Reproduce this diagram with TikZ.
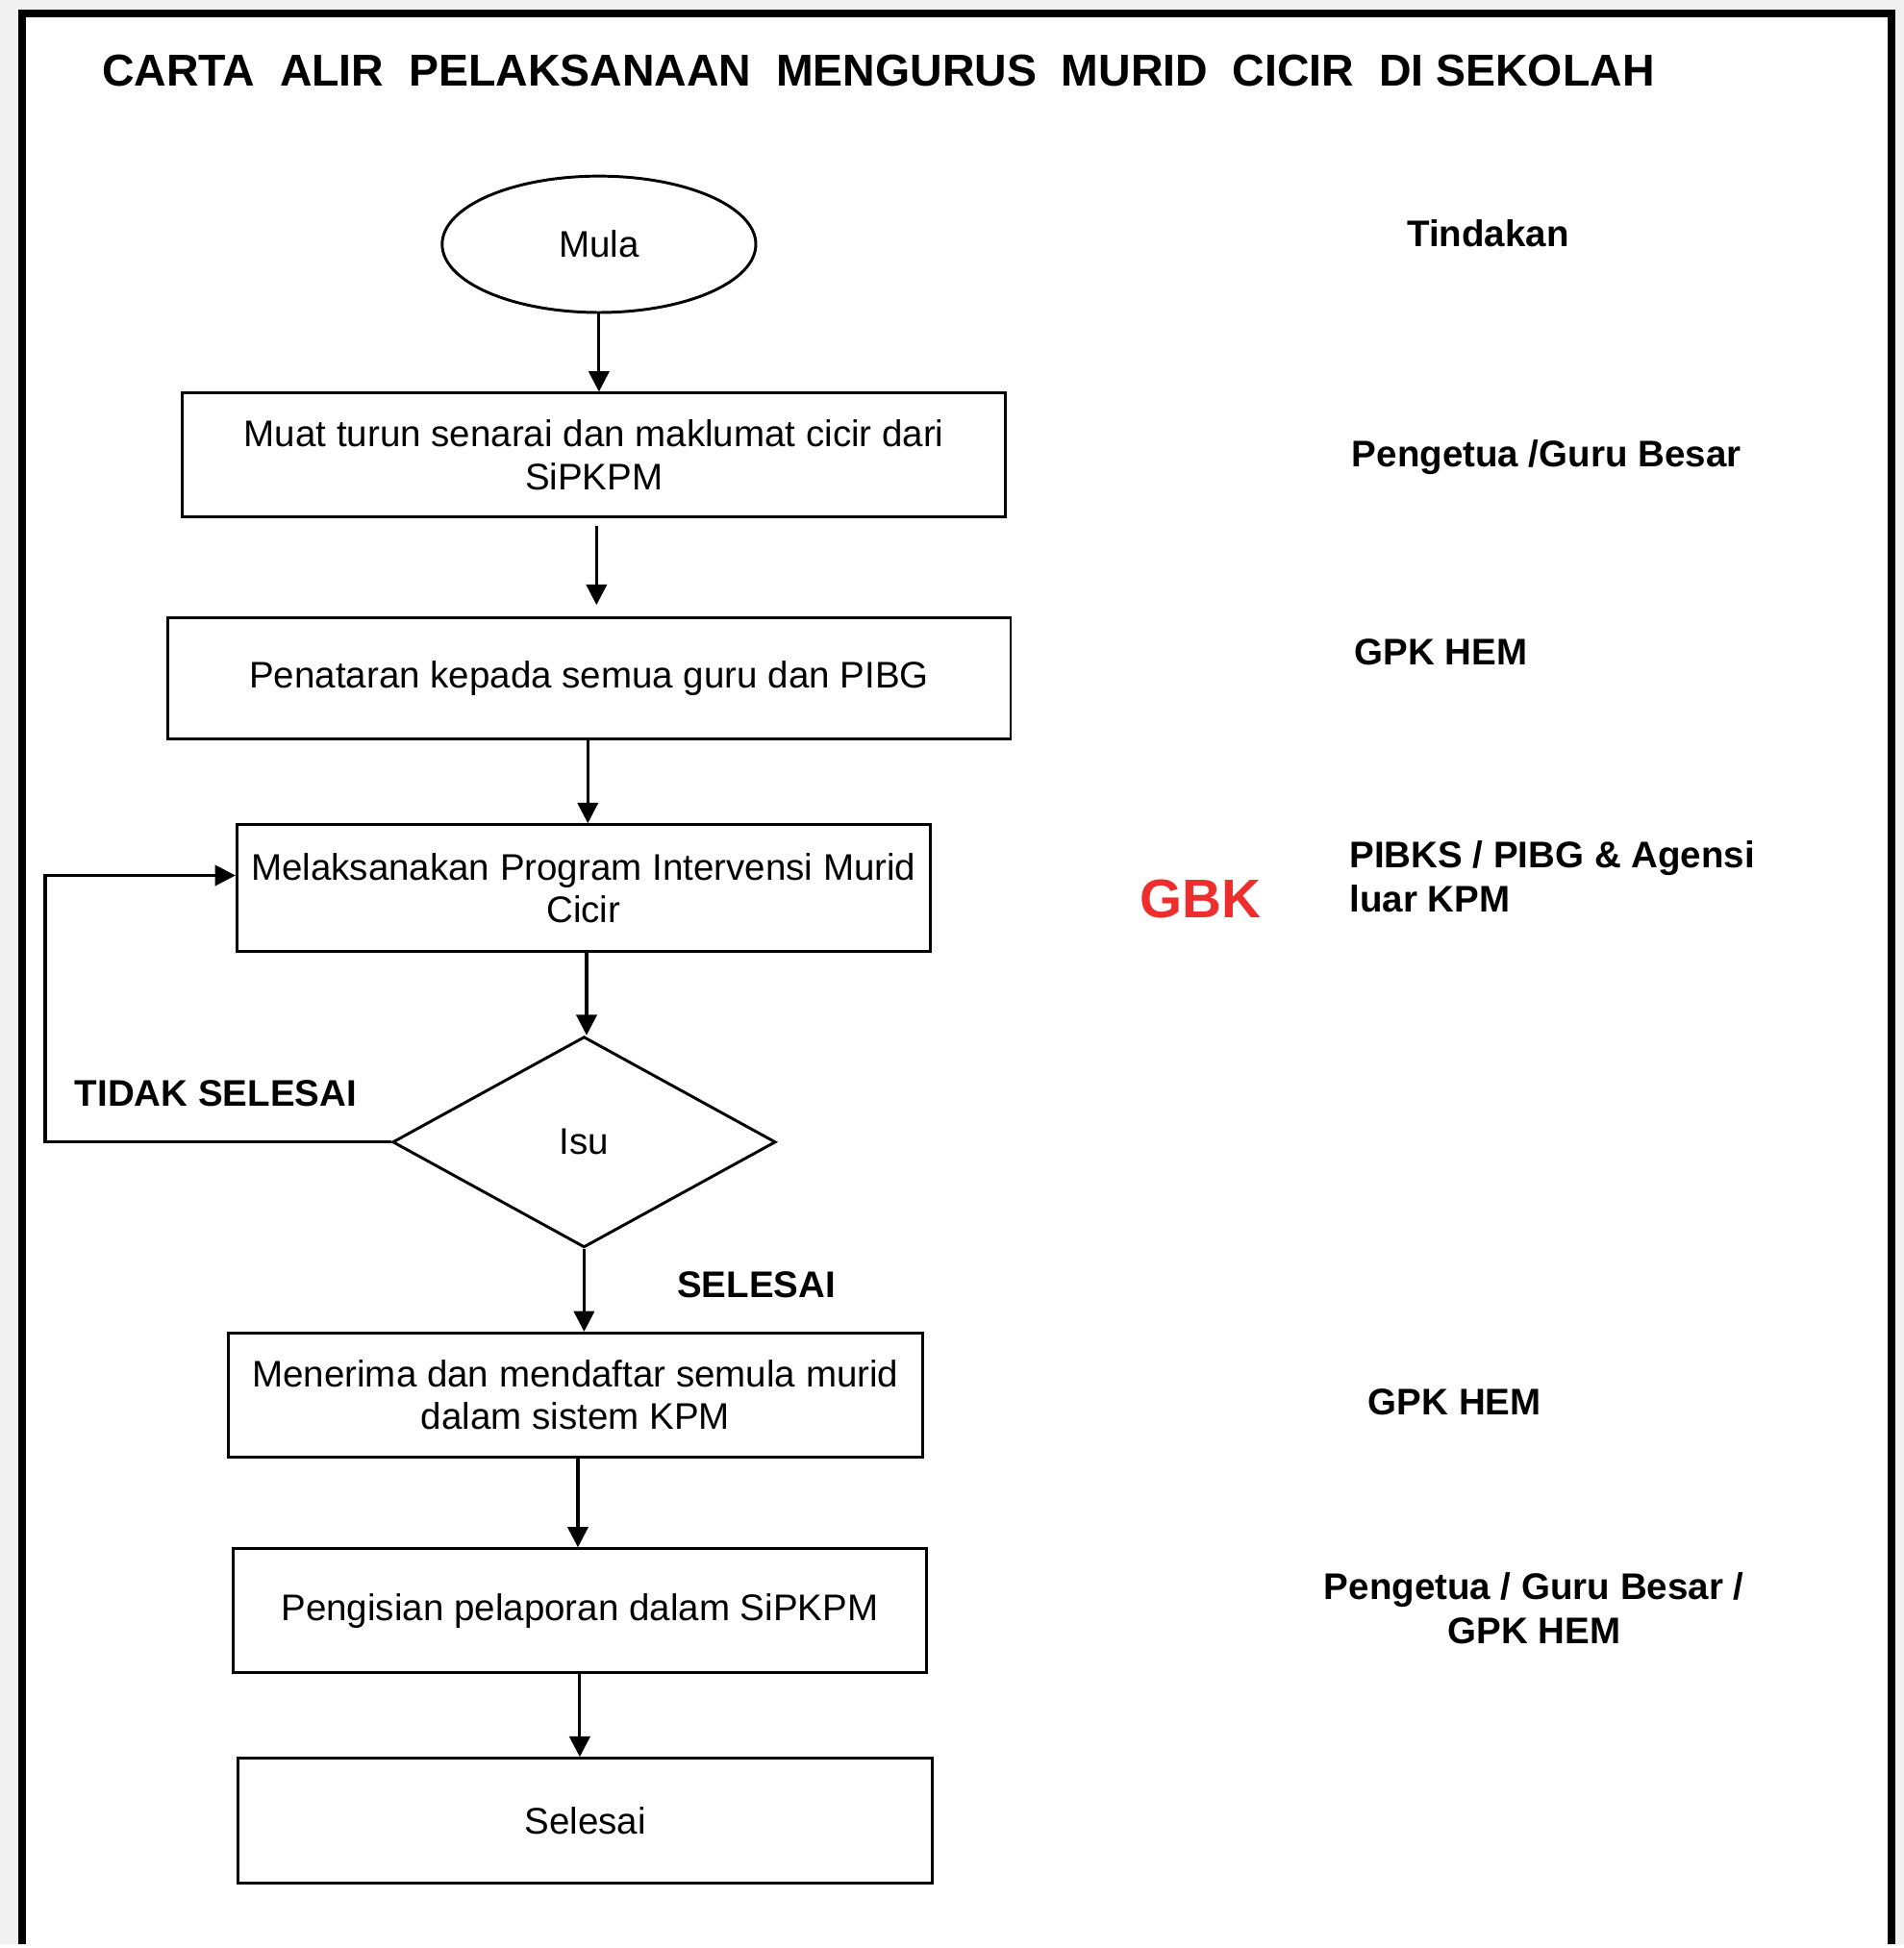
\documentclass[tikz,border=0pt]{standalone}
\usepackage{fontspec}
\setmainfont{Liberation Sans}
\usetikzlibrary{arrows.meta,shapes.geometric,calc}
\definecolor{gbkred}{RGB}{238,45,45}
\definecolor{pagegray}{RGB}{241,241,241}

\tikzset{
  stepbox/.style={draw,line width=1.3pt,align=center,inner sep=0pt,
    font=\fontsize{17}{19.5}\selectfont},
  start/.style={draw,ellipse,line width=1.3pt,inner sep=0pt,
    minimum width=5.06cm,minimum height=2.2cm,font=\fontsize{17}{19.5}\selectfont},
  decide/.style={draw,diamond,line width=1.3pt,inner sep=0pt,
    minimum width=6.18cm,minimum height=3.4cm,font=\fontsize{17}{19.5}\selectfont},
  who/.style={font=\bfseries\fontsize{17}{20}\selectfont,align=center},
  arr/.style={line width=1.4pt,-{Triangle[length=3.3mm,width=3.3mm]}}
}

\begin{document}
\begin{tikzpicture}[x=0.02cm,y=-0.02cm]
% page and frame
\fill[pagegray] (0,0) rectangle (1535,1568);
\fill[white] (17.8,10.8) rectangle (1525,1568);
\draw[line width=3.4pt] (17.8,1568) -- (17.8,10.8) -- (1525,10.8) -- (1525,1568);

\node[anchor=west,inner sep=0pt,font=\bfseries\fontsize{20.5}{24}\selectfont] (title) at (82,57)
  {CARTA\ \ ALIR\ \ PELAKSANAAN\ \ MENGURUS\ \ MURID\ \ CICIR\ \ DI SEKOLAH};

% flow
\node[start] (mula) at (483,197) {Mula};
\node[stepbox,minimum width=13.28cm,minimum height=2cm] (muat) at (479,367)
  {Muat turun senarai dan maklumat cicir dari\\SiPKPM};
\node[stepbox,minimum width=13.6cm,minimum height=1.96cm] (penataran) at (475,547)
  {Penataran kepada semua guru dan PIBG};
\node[stepbox,minimum width=11.18cm,minimum height=2.04cm] (program) at (470.5,716)
  {Melaksanakan Program Intervensi Murid\\Cicir};
\node[decide] (isu) at (471,921) {Isu};
\node[stepbox,minimum width=11.2cm,minimum height=2cm] (daftar) at (464,1125)
  {Menerima dan mendaftar semula murid\\dalam sistem KPM};
\node[stepbox,minimum width=11.18cm,minimum height=2cm] (lapor) at (467.5,1299)
  {Pengisian pelaporan dalam SiPKPM};
\node[stepbox,minimum width=11.2cm,minimum height=2.02cm] (selesai) at (472,1468.5)
  {Selesai};

\draw[arr] (mula.south) -- (mula.south |- muat.north);
\draw[arr,shorten <=0.12cm,shorten >=0.18cm] ([xshift=0.04cm]muat.south) -- ([xshift=0.04cm]muat.south |- penataran.north);
\draw[arr] ([xshift=-0.02cm]penataran.south) -- ([xshift=-0.02cm]penataran.south |- program.north);
\draw[arr] ([xshift=0.05cm]program.south) -- ([xshift=0.05cm]program.south |- isu.north);
\draw[arr] (isu.south) -- (isu.south |- daftar.north);
\draw[arr] ([xshift=0.04cm]daftar.south) -- ([xshift=0.04cm]daftar.south |- lapor.north);
\draw[arr] (lapor.south) -- (lapor.south |- selesai.north);
\draw[arr] (isu.west) -- ++(-279,0) |- ([yshift=0.2cm]program.west);

\node[who] (tidak) at (174,882) {TIDAK SELESAI};
\node[who] (ok) at (610,1036) {SELESAI};

% tindakan
\node[who] (tindakan) at (1200,188) {Tindakan};
\node[who] (pgb) at (1247,369) {Pengetua /Guru Besar};
\node[who] (gpk1) at (1162,526) {GPK HEM};
\node[who,align=left,anchor=west] (pibks) at (1082,707) {PIBKS / PIBG \& Agensi\\luar KPM};
\node[font=\bfseries\fontsize{25}{28}\selectfont,text=gbkred] (gbk) at (968,725) {GBK};
\node[who] (gpk2) at (1173,1131) {GPK HEM};
\node[who] (pgb2) at (1237,1297) {Pengetua / Guru Besar /\\GPK HEM};
\end{tikzpicture}
\end{document}
